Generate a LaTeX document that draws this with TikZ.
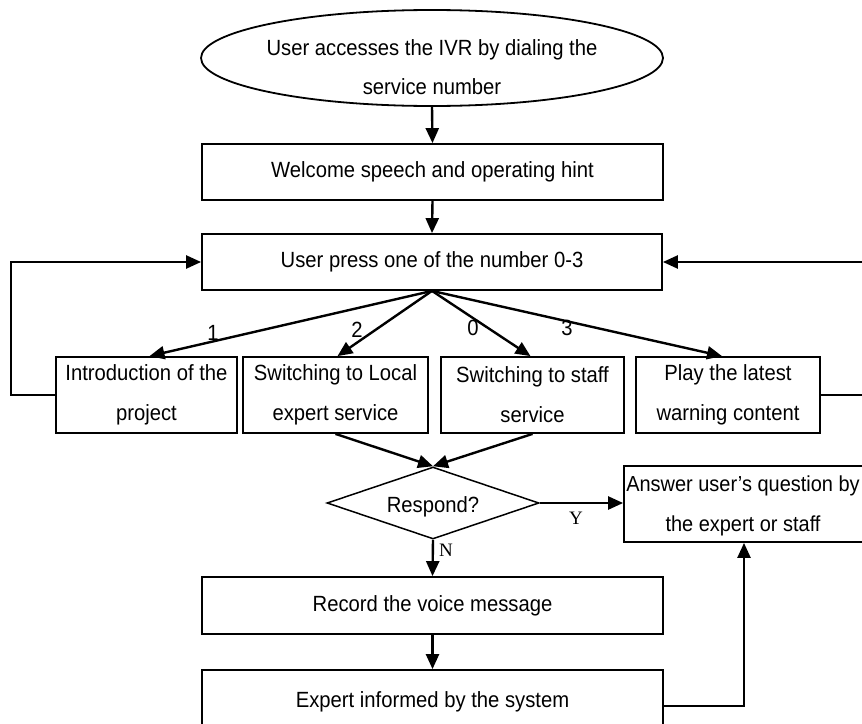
\documentclass[tikz,border=0pt]{standalone}
\usepackage{fontspec}
\setmainfont{Liberation Sans}[FakeStretch=0.92]
\newfontfamily\serifnt{Liberation Serif}
\usetikzlibrary{shapes.geometric,arrows.meta,calc}
\begin{document}
\begin{tikzpicture}[x=1pt,y=-1pt,
  box/.style={draw, line width=1.8pt, rectangle, inner sep=0pt, align=center,
    font=\fontsize{22}{40}\selectfont},
  arr/.style={line width=2.4pt, -{Triangle[length=15pt,width=13pt]}},
  lbl/.style={font=\fontsize{22}{24}\selectfont, inner sep=0pt},
  yn/.style={font=\serifnt\fontsize{19}{22}\selectfont, inner sep=0pt}]
\useasboundingbox (0,0) rectangle (862,723);
% start ellipse
\node[draw, ellipse, line width=1.8pt, minimum width=462pt, minimum height=96pt, inner sep=0pt] (start) at (432,58) {};
\begin{scope}
  \clip (200,0) rectangle (664,95);
  \node[align=center, inner sep=0pt, font=\fontsize{22}{39}\selectfont] (starttxt) at (432,67)
    {User accesses the IVR by dialing the\\service number};
\end{scope}
% boxes
\node[box, minimum width=461pt, minimum height=56pt] (welcome) at (432.5,172) {Welcome speech and operating hint};
\node[box, minimum width=460pt, minimum height=56pt] (user) at (432,262) {User press one of the number 0-3};
\node[box, minimum width=181pt, minimum height=76pt] (intro) at (146.5,395) {Introduction of the\\project};
\node[box, minimum width=185pt, minimum height=76pt] (local) at (335.5,395) {Switching to Local\\expert service};
\node[box, minimum width=183pt, minimum height=76pt] (staff) at (532.5,395) {Switching to staff\\service};
\node[box, minimum width=184pt, minimum height=76pt] (play) at (728,395) {Play the latest\\warning content};
\node[draw, diamond, line width=1.5pt, minimum width=212pt, minimum height=72pt, inner sep=0pt,
  label={[lbl, yshift=-4pt]center:Respond?}] (resp) at (433,503) {};
\node[box, minimum width=242pt, minimum height=76pt,
  label={[box, draw=none, xshift=-2pt, yshift=-2pt, font=\fontsize{21.7}{40}\selectfont]center:Answer user’s question by\\the expert or staff}] (ans) at (745,504) {};
\node[box, minimum width=461pt, minimum height=57pt] (rec) at (432.5,605.5) {Record the voice message};
\node[box, minimum width=461pt, minimum height=64pt] (exp) at (432.5,702) {Expert informed by the system};
% connectors
\draw[arr] (start.south) -- (welcome.north);
\draw[arr] (welcome.south) -- (user.north);
\draw[arr] (user.south) -- ([xshift=3pt]intro.north);
\draw[arr] (user.south) -- ([xshift=2pt]local.north);
\draw[arr] (user.south) -- ([xshift=-2pt]staff.north);
\draw[arr] (user.south) -- ([xshift=-6pt]play.north);
\draw[arr] (intro.west) -- ++(-44,0) |- (user.west);
\draw[arr] (play.east) -- ++(46,0) |- (user.east);
\draw[arr] (local.south) -- (resp.north);
\draw[arr] (staff.south) -- (resp.north);
\draw[arr] (resp.east) -- (resp.east -| ans.west);
\draw[arr] (resp.south) -- (rec.north);
\draw[arr] (rec.south) -- (exp.north);
\draw[arr] ([yshift=-4pt]exp.east) -| ([xshift=-1pt]ans.south);
% labels
\node[lbl] (l1) at (213,333) {1};
\node[lbl] (l2) at (357,330) {2};
\node[lbl] (l0) at (473,328) {0};
\node[lbl] (l3) at (567,328) {3};
\node[yn] (ly) at (576,518) {Y};
\node[yn] (ln) at (446,550) {N};
\end{tikzpicture}
\end{document}
